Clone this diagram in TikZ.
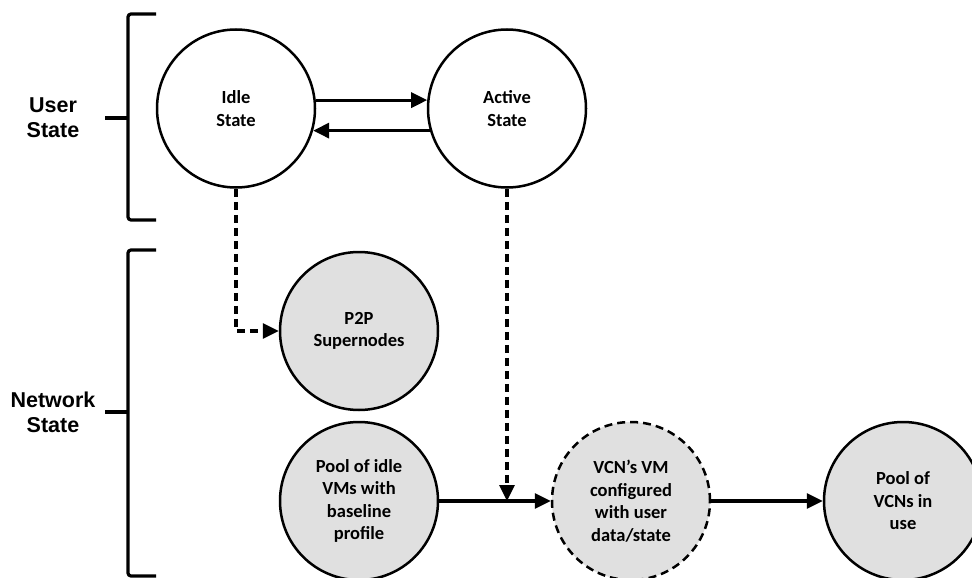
\documentclass[tikz,border=0pt]{standalone}
\usepackage{fontspec}
\newfontfamily\labelfont{Liberation Sans}
\newfontfamily\nodefont{Carlito}
\usetikzlibrary{arrows.meta}
\definecolor{statefill}{RGB}{224,224,224}
\tikzset{
  state/.style={circle, draw=black, line width=2.5pt, minimum size=158pt,
    inner sep=0pt, align=center,
    font=\nodefont\bfseries\fontsize{18.5}{22.5}\selectfont},
  netstate/.style={state, fill=statefill},
  pending/.style={netstate, dash pattern=on 8pt off 5pt},
  grouplabel/.style={align=center,
    font=\labelfont\bfseries\fontsize{21.5}{25}\selectfont},
  bracket/.style={line width=3.2pt, rounded corners=3pt},
  flow/.style={line width=3.2pt, -{Triangle[length=16pt,width=15pt]}},
  weakflow/.style={flow, dash pattern=on 8pt off 5pt}
}
\begin{document}
\begin{tikzpicture}[x=1pt, y=-1pt]
\useasboundingbox (0,0) rectangle (972,578);

% group labels and brackets
\node[grouplabel] (userlbl) at (53,118) {User\\State};
\node[grouplabel] (netlbl) at (53,412) {Network\\State};
\draw[bracket] (156,14) -- (128,14) -- (128,220) -- (156,220);
\draw[bracket] (105,118) -- (128,118);
\draw[bracket] (156,250) -- (128,250) -- (128,576) -- (156,576);
\draw[bracket] (105,412) -- (128,412);

% user states
\node[state] (idle) at (236,108.5) {Idle\\State};
\node[state] (active) at (507,108.5) {Active\\State};

% network states
\node[netstate] (p2p) at (359,331) {P2P\\Supernodes};
\node[netstate] (pool) at (359,501) {Pool of idle\\VMs with\\baseline\\profile};
\node[pending] (vcn) at (631,501) {VCN’s VM\\configured\\with user\\data/state};
\node[netstate] (inuse) at (903,501) {Pool of\\VCNs in\\use};

\coordinate (merge) at (507,501);

% transitions
\draw[flow] (idle.6) -- (active.174);
\draw[flow] (active.196) -- (idle.-16);
\draw[weakflow] (idle.south) |- (p2p.west);
\draw[flow] (pool.east) -- (vcn.west);
\draw[weakflow] (active.south) -- (merge);
\draw[flow] (vcn.east) -- (inuse.west);
\end{tikzpicture}
\end{document}
